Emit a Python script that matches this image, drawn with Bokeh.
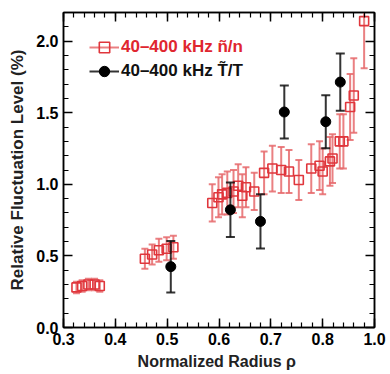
from bokeh.plotting import figure
from bokeh.models import (Range1d, FixedTicker, LinearAxis, Legend, LegendItem,
                          CustomJSTickFormatter, ColumnDataSource)
from bokeh.embed import file_html
from bokeh.resources import INLINE
import numpy as np

# ---- data ----
rho_n = [0.325, 0.336, 0.348, 0.360, 0.370,
         0.457, 0.471, 0.484, 0.499, 0.512,
         0.587, 0.599, 0.606, 0.616, 0.628, 0.637, 0.645, 0.652, 0.668,
         0.687, 0.703, 0.720, 0.735, 0.754, 0.778, 0.794, 0.800, 0.814,
         0.819, 0.833, 0.840, 0.853, 0.860, 0.880]
level_n = [0.28, 0.29, 0.30, 0.30, 0.29,
           0.48, 0.51, 0.54, 0.55, 0.56,
           0.87, 0.91, 0.93, 0.94, 0.95, 0.99, 0.92, 0.98, 0.95,
           1.08, 1.11, 1.10, 1.09, 1.03, 1.11, 1.13, 1.09, 1.16,
           1.18, 1.30, 1.30, 1.54, 1.62, 2.14]
err_n = [0.04, 0.04, 0.04, 0.04, 0.04,
         0.07, 0.07, 0.08, 0.08, 0.08,
         0.13, 0.14, 0.14, 0.15, 0.15, 0.15, 0.15, 0.14, 0.13,
         0.15, 0.16, 0.16, 0.15, 0.14, 0.17, 0.17, 0.16, 0.17,
         0.17, 0.19, 0.19, 0.23, 0.26, 0.33]

rho_T = [0.507, 0.622, 0.680, 0.726, 0.806, 0.834]
level_T = [0.425, 0.822, 0.741, 1.505, 1.437, 1.714]
err_T = [0.18, 0.19, 0.19, 0.185, 0.185, 0.20]

x_ticks = [0.3, 0.4, 0.5, 0.6, 0.7, 0.8, 0.9]
x_tick_labels = ["0.3", "0.4", "0.5", "0.6", "0.7", "0.8", "1.0"]
y_ticks = [0.0, 0.5, 1.0, 1.5, 2.0]
y_tick_labels = ["0.0", "0.5", "1.0", "1.5", "2.0"]

label_n = "40\u2013400 kHz \u00f1/n"
label_T = "40\u2013400 kHz T\u0303/T"
x_title = "Normalized Radius  \u03c1"
y_title = "Relative Fluctuation Level (%)"

RED = "#e0363c"
RED_BAR = "#e66a6c"
BLACK = "#111111"
FONT = "Liberation Sans"

src_n = ColumnDataSource(dict(x=rho_n, y=level_n,
                              lo=[v - e for v, e in zip(level_n, err_n)],
                              hi=[v + e for v, e in zip(level_n, err_n)]))
src_T = ColumnDataSource(dict(x=rho_T, y=level_T,
                              lo=[v - e for v, e in zip(level_T, err_T)],
                              hi=[v + e for v, e in zip(level_T, err_T)]))

p = figure(width=390, height=374, output_backend="svg", toolbar_location=None,
           x_range=Range1d(0.3, 0.9), y_range=Range1d(0.0, 2.2),
           min_border_left=63, min_border_right=16, min_border_top=12,
           min_border_bottom=47, x_axis_type=None, y_axis_type=None)
p.background_fill_color = "white"
p.border_fill_color = "white"
p.outline_line_color = "black"
p.outline_line_width = 1.5
p.xgrid.visible = False
p.ygrid.visible = False

x_minor = list(np.round(np.arange(0.3, 0.9001, 0.02), 3))
y_minor = list(np.round(np.arange(0.0, 2.2001, 0.1), 3))


def style_axis(ax, labels=True):
    ax.axis_line_color = "black"
    ax.axis_line_width = 1.5
    ax.major_tick_in = 9
    ax.major_tick_out = 0
    ax.minor_tick_in = 5
    ax.minor_tick_out = 0
    ax.major_tick_line_width = 1.5
    ax.minor_tick_line_width = 1.2
    ax.major_tick_line_color = "black"
    ax.minor_tick_line_color = "black"
    ax.major_label_text_font = FONT
    ax.major_label_text_font_style = "bold"
    ax.major_label_text_font_size = "16px"
    ax.major_label_text_color = "black"
    ax.axis_label_text_font = FONT
    ax.axis_label_text_font_style = "bold"
    ax.axis_label_text_font_size = "16px"
    ax.axis_label_text_color = "#222222"
    if not labels:
        ax.formatter = CustomJSTickFormatter(code="return ''")


xb = LinearAxis(ticker=FixedTicker(ticks=x_ticks, minor_ticks=x_minor))
xb.major_label_overrides = dict(zip(x_ticks, x_tick_labels))
xb.axis_label = x_title
style_axis(xb)
xb.major_label_standoff = 5
xb.axis_label_standoff = 5
p.add_layout(xb, "below")

yl = LinearAxis(ticker=FixedTicker(ticks=y_ticks, minor_ticks=y_minor))
yl.major_label_overrides = dict(zip(y_ticks, y_tick_labels))
yl.axis_label = y_title
yl.axis_label_text_font_size = "17px"
style_axis(yl)
yl.axis_label_text_font_size = "17px"
yl.major_label_standoff = 5
yl.axis_label_standoff = 6
p.add_layout(yl, "left")

xt = LinearAxis(ticker=FixedTicker(ticks=x_ticks, minor_ticks=x_minor))
style_axis(xt, labels=False)
p.add_layout(xt, "above")

yr = LinearAxis(ticker=FixedTicker(ticks=y_ticks, minor_ticks=y_minor))
style_axis(yr, labels=False)
p.add_layout(yr, "right")

# ---- ñ/n series ----
bar_n = p.segment(x0="x", y0="lo", x1="x", y1="hi", source=src_n,
                  line_color=RED_BAR, line_width=2, line_alpha=0.85)
p.scatter(x="x", y="lo", source=src_n, marker="dash", size=7,
          line_color=RED_BAR, line_width=2, line_alpha=0.85)
p.scatter(x="x", y="hi", source=src_n, marker="dash", size=7,
          line_color=RED_BAR, line_width=2, line_alpha=0.85)
pt_n = p.scatter(x="x", y="y", source=src_n, marker="square", size=9,
                 line_color=RED, line_width=1.6, fill_color=None)

# ---- T̃/T series ----
bar_T = p.segment(x0="x", y0="lo", x1="x", y1="hi", source=src_T,
                  line_color=BLACK, line_width=2, line_alpha=0.85)
p.scatter(x="x", y="lo", source=src_T, marker="dash", size=9,
          line_color=BLACK, line_width=2, line_alpha=0.85)
p.scatter(x="x", y="hi", source=src_T, marker="dash", size=9,
          line_color=BLACK, line_width=2, line_alpha=0.85)
pt_T = p.scatter(x="x", y="y", source=src_T, marker="circle", size=10,
                 line_color="black", fill_color="black")


def make_legend(item_label, renderers, color, loc):
    lg = Legend(items=[LegendItem(label=item_label, renderers=renderers)],
                location=loc)
    lg.border_line_color = None
    lg.background_fill_alpha = 0
    lg.padding = 0
    lg.margin = 0
    lg.glyph_width = 30
    lg.glyph_height = 26
    lg.label_height = 24
    lg.label_standoff = 2
    lg.label_text_font = FONT
    lg.label_text_font_style = "bold"
    lg.label_text_font_size = "17px"
    lg.label_text_color = color
    return lg


p.add_layout(make_legend(label_n, [bar_n, pt_n], "#e0262f", (26, 267)))
p.add_layout(make_legend(label_T, [bar_T, pt_T], "#111111", (26, 243)))

open("out.html", "w").write(file_html(p, INLINE))
